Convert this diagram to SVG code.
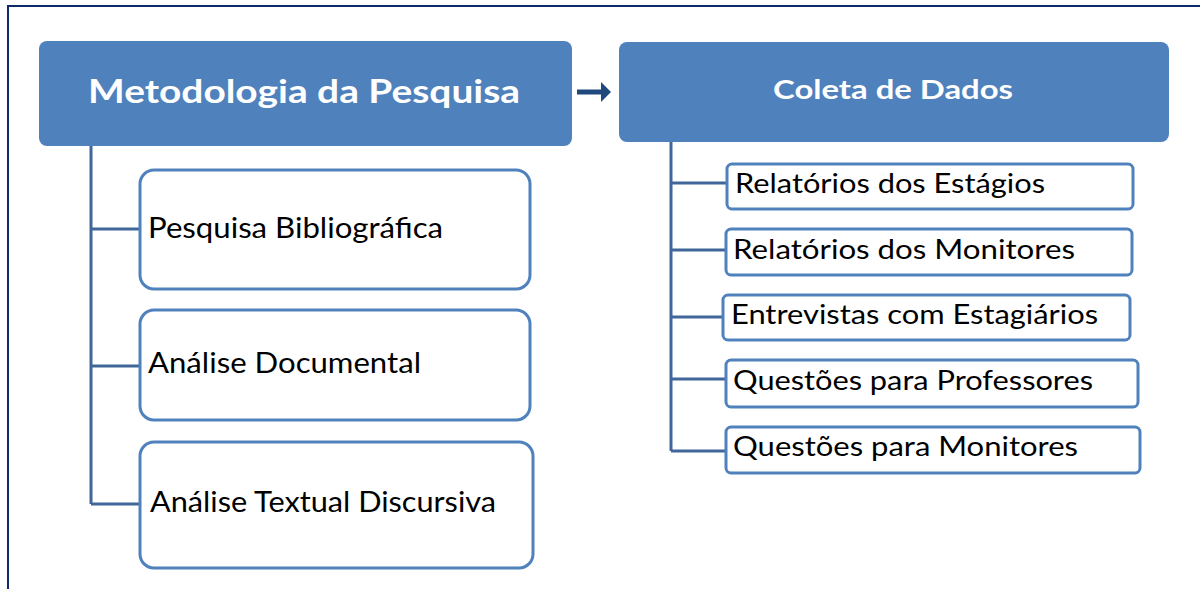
<svg xmlns="http://www.w3.org/2000/svg" width="1200" height="589" viewBox="0 0 1200 589">
<defs>
<style>
.frame{stroke:#0d2b6b;stroke-width:2;fill:none}
.main{fill:#4f81bd}
.mt{font-family:Lato,"Open Sans",sans-serif;font-weight:bold;fill:#ffffff}
.child{fill:#ffffff;stroke:#4f81bd;stroke-width:3}
.ct{font-family:Lato,"Open Sans",sans-serif;fill:#000000}
.conn{stroke:#41679a;stroke-width:3;fill:none}
</style>
<marker id="ah" markerWidth="4" markerHeight="4" refX="1" refY="2" orient="auto" markerUnits="strokeWidth">
<path d="M0,0 L2,2 L0,4 Z" fill="#1f497d"/>
</marker>
</defs>
<rect width="1200" height="589" fill="#ffffff"/>
<path class="frame" d="M8,589 L8,6 L1200,6"/>
<g id="connectors">
<path class="conn" d="M91,146 V504 M91,229 H140 M91,366 H140 M91,504 H140"/>
<path class="conn" d="M671,142 V451 M671,183 H727 M671,250 H726 M671,317 H723 M671,379 H726 M671,451 H726"/>
<line x1="577" y1="92" x2="606" y2="92" stroke="#1f497d" stroke-width="5" marker-end="url(#ah)"/>
</g>
<g id="metodologia">
<rect class="main" x="39" y="41" width="533" height="105" rx="8"/>
<text class="mt" x="304" y="103" font-size="33" text-anchor="middle" textLength="432" lengthAdjust="spacingAndGlyphs">Metodologia da Pesquisa</text>
</g>
<g id="coleta">
<rect class="main" x="619" y="42" width="550" height="100" rx="8"/>
<text class="mt" x="893" y="99" font-size="26" text-anchor="middle" textLength="240" lengthAdjust="spacingAndGlyphs">Coleta de Dados</text>
</g>
<g id="pesquisa-bibliografica">
<rect class="child" x="140" y="170" width="390" height="119" rx="14"/>
<text class="ct" x="148" y="238" font-size="28" textLength="295" lengthAdjust="spacingAndGlyphs">Pesquisa Bibliográfica</text>
</g>
<g id="analise-documental">
<rect class="child" x="140" y="310" width="390" height="110" rx="14"/>
<text class="ct" x="148" y="373" font-size="28" textLength="273" lengthAdjust="spacingAndGlyphs">Análise Documental</text>
</g>
<g id="analise-textual">
<rect class="child" x="140" y="442" width="393" height="126" rx="14"/>
<text class="ct" x="150" y="512" font-size="28" textLength="346" lengthAdjust="spacingAndGlyphs">Análise Textual Discursiva</text>
</g>
<g id="relatorios-estagios">
<rect class="child" x="727" y="164" width="406" height="45" rx="5"/>
<text class="ct" x="735" y="193" font-size="26" textLength="310" lengthAdjust="spacingAndGlyphs">Relatórios dos Estágios</text>
</g>
<g id="relatorios-monitores">
<rect class="child" x="726" y="229" width="406" height="46" rx="5"/>
<text class="ct" x="733" y="259" font-size="26" textLength="342" lengthAdjust="spacingAndGlyphs">Relatórios dos Monitores</text>
</g>
<g id="entrevistas">
<rect class="child" x="723" y="295" width="407" height="45" rx="5"/>
<text class="ct" x="731" y="324" font-size="26" textLength="367" lengthAdjust="spacingAndGlyphs">Entrevistas com Estagiários</text>
</g>
<g id="questoes-professores">
<rect class="child" x="726" y="360" width="412" height="47" rx="5"/>
<text class="ct" x="733" y="390" font-size="26" textLength="360" lengthAdjust="spacingAndGlyphs">Questões para Professores</text>
</g>
<g id="questoes-monitores">
<rect class="child" x="726" y="427" width="414" height="46" rx="5"/>
<text class="ct" x="733" y="456" font-size="26" textLength="345" lengthAdjust="spacingAndGlyphs">Questões para Monitores</text>
</g>
</svg>
